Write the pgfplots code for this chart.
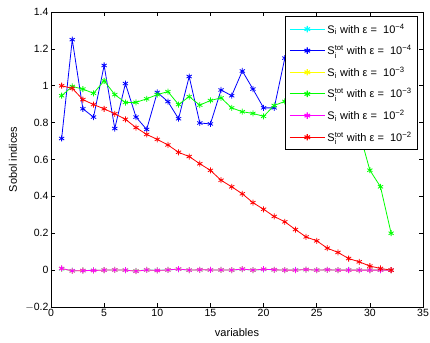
\documentclass[border=0pt]{standalone}
\usepackage{amsmath}
\usepackage{fontspec}
\setmainfont{Liberation Sans}
\usepackage{pgfplots}
\pgfplotsset{compat=1.18}
\definecolor{mcyan}{rgb}{0,1,1}
\definecolor{mblue}{rgb}{0,0,1}
\definecolor{myellow}{rgb}{1,1,0}
\definecolor{mgreen}{rgb}{0,1,0}
\definecolor{mmagenta}{rgb}{1,0,1}
\definecolor{mred}{rgb}{1,0,0}
\begin{document}
\begin{tikzpicture}
\begin{axis}[
  scale only axis, width=372pt, height=295pt,
  xmin=0, xmax=35, ymin=-0.2, ymax=1.4,
  xtick={0,5,10,15,20,25,30,35},
  ytick={-0.2,0,0.2,0.4,0.6,0.8,1,1.2,1.4},
  yticklabels={$-$0.2,0,0.2,0.4,0.6,0.8,1,1.2,1.4},
  /pgf/number format/assume math mode=true,
  tick align=inside, xtick pos=both, ytick pos=both,
  major tick length=4pt,
  axis line style={line width=0.8pt},
  tick style={line width=0.6pt, black},
  tick label style={font=\fontsize{10.5}{12}\selectfont},
  xticklabel style={yshift=1pt},
  yticklabel style={xshift=1pt},
  label style={font=\fontsize{11}{13}\selectfont},
  xlabel={variables}, ylabel={Sobol indices},
  xlabel style={at={(axis description cs:0.5,-0.088)}, anchor=center},
  ylabel style={at={(axis description cs:-0.102,0.5)}, anchor=center},
  every axis plot/.append style={line width=0.8pt, mark=asterisk, mark size=3pt, mark options={solid}},
  legend cell align=left,
  legend image code/.code={\draw[line width=1.1pt, mark repeat=2, mark phase=2, mark size=3.2pt] plot coordinates {(0cm,0cm) (0.62cm,0cm) (1.24cm,0cm)};},
  legend style={at={(0.987,0.986)}, anchor=north east, very thick,
    font=\fontsize{11}{12}\selectfont, row sep=6.8pt, inner xsep=4pt, inner ysep=5pt},
]
\addplot[color=mcyan] coordinates {(1,0.007)(2,-0.003)(3,-0.002)(4,-0.001)(5,0.0)(6,0.001)(7,0.0)(8,-0.004)(9,0.001)(10,-0.001)(11,0.001)(12,0.005)(13,0.0)(14,0.002)(15,0.001)(16,0.001)(17,0.0)(18,0.005)(19,0.0)(20,0.004)(21,0.002)(22,0.0)(23,0.001)(24,0.003)(25,0.0)(26,0.002)(27,0.0)(28,0.001)(29,0.0)(30,0.0)(31,0.0)(32,0.0)};
\addlegendentry{S$_{\text{i}}$ with ε =\ \ 10$^{\text{−4}}$}
\addplot[color=mblue] coordinates {(1,0.714)(2,1.25)(3,0.875)(4,0.83)(5,1.11)(6,0.768)(7,1.012)(8,0.83)(9,0.763)(10,0.964)(11,0.914)(12,0.821)(13,1.05)(14,0.798)(15,0.793)(16,0.977)(17,0.946)(18,1.08)(19,0.982)(20,0.88)(21,0.88)(22,1.15)(23,0.95)(24,1.05)(25,0.9)(26,1.0)(27,0.92)(28,1.08)(29,0.9)(30,0.98)(31,0.85)(32,0.95)};
\addlegendentry{S$_{\text{i}}^{\text{tot}}$ with ε =\ \ 10$^{\text{−4}}$}
\addplot[color=myellow] coordinates {(1,0.008)(2,-0.004)(3,-0.002)(4,-0.002)(5,0.0)(6,0.001)(7,0.0)(8,-0.005)(9,0.001)(10,-0.002)(11,0.001)(12,0.006)(13,0.0)(14,0.002)(15,0.001)(16,0.001)(17,0.0)(18,0.006)(19,0.0)(20,0.005)(21,0.002)(22,0.0)(23,0.0)(24,0.003)(25,0.0)(26,0.002)(27,0.0)(28,0.0)(29,0.0)(30,0.0)(31,0.0)(32,0.0)};
\addlegendentry{S$_{\text{i}}$ with ε =\ \ 10$^{\text{−3}}$}
\addplot[color=mgreen] coordinates {(1,0.946)(2,0.996)(3,0.982)(4,0.959)(5,1.027)(6,0.952)(7,0.909)(8,0.91)(9,0.929)(10,0.952)(11,0.968)(12,0.898)(13,0.941)(14,0.895)(15,0.92)(16,0.934)(17,0.88)(18,0.859)(19,0.85)(20,0.834)(21,0.893)(22,0.915)(23,0.91)(24,0.89)(25,0.87)(26,0.85)(27,0.82)(28,0.79)(29,0.75)(30,0.542)(31,0.452)(32,0.2)};
\addlegendentry{S$_{\text{i}}^{\text{tot}}$ with ε =\ \ 10$^{\text{−3}}$}
\addplot[color=mmagenta] coordinates {(1,0.009)(2,-0.004)(3,-0.003)(4,-0.002)(5,0.0)(6,0.001)(7,0.0)(8,-0.006)(9,0.001)(10,-0.002)(11,0.001)(12,0.006)(13,0.0)(14,0.002)(15,0.001)(16,0.001)(17,0.0)(18,0.006)(19,0.0)(20,0.005)(21,0.002)(22,0.0)(23,0.0)(24,0.003)(25,0.0)(26,0.002)(27,0.0)(28,0.0)(29,0.0)(30,0.0)(31,0.0)(32,0.0)};
\addlegendentry{S$_{\text{i}}$ with ε =\ \ 10$^{\text{−2}}$}
\addplot[color=mred] coordinates {(1,1.0)(2,0.986)(3,0.925)(4,0.898)(5,0.875)(6,0.848)(7,0.818)(8,0.773)(9,0.736)(10,0.709)(11,0.679)(12,0.639)(13,0.616)(14,0.577)(15,0.541)(16,0.4875)(17,0.452)(18,0.414)(19,0.366)(20,0.33)(21,0.291)(22,0.262)(23,0.22)(24,0.18)(25,0.159)(26,0.119)(27,0.096)(28,0.063)(29,0.045)(30,0.022)(31,0.009)(32,0.0)};
\addlegendentry{S$_{\text{i}}^{\text{tot}}$ with ε =\ \ 10$^{\text{−2}}$}
\end{axis}
\path (current axis.south west) ++(-51pt,-35pt) coordinate (bbl);
\path (current axis.north east) ++(7pt,12pt) coordinate (btr);
\pgfresetboundingbox
\path (bbl) rectangle (btr);
\end{tikzpicture}
\end{document}
